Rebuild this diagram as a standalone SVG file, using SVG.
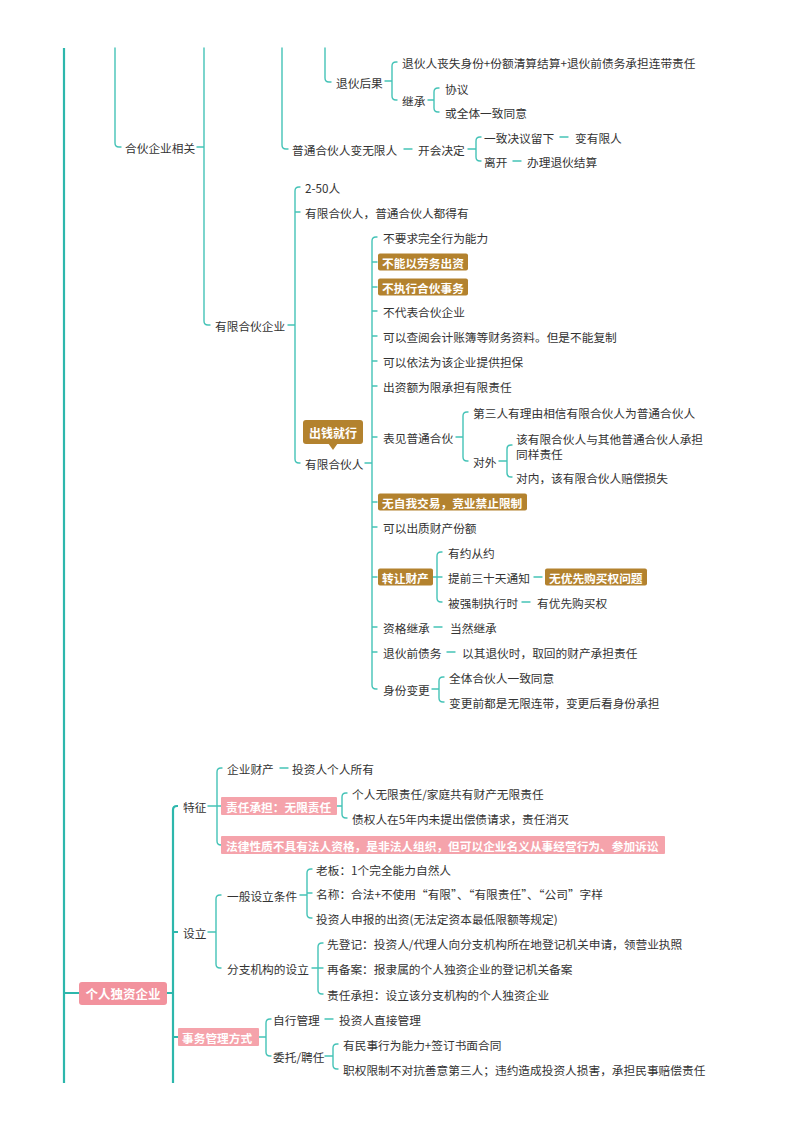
<svg xmlns="http://www.w3.org/2000/svg" width="800" height="1132" viewBox="0 0 800 1132">
<style>
text{font-family:"Noto Sans CJK SC","Noto Sans",sans-serif;font-size:11.7px;fill:#333;dominant-baseline:central}
.w{fill:#fff;font-weight:bold}
.ln{fill:none;stroke:#45c3b7;stroke-width:1.4;stroke-linecap:round}
.main{fill:none;stroke:#2db7ac;stroke-width:2.2}
.br{fill:#b3822e}
.pk{fill:#f5a3ab}
.pk2{fill:#f2929d}
</style>
<rect width="800" height="1132" fill="#fff"/>
<g id="connectors">
<path class="main" d="M64 48 V1083 M64 993 H79"/>
<path class="ln" d="M115 48 V143 Q115 147 119 147 H121"/>
<path class="ln" d="M204 48 V321 Q204 325 208 325 H210 M197 147 H204"/>
<path class="ln" d="M282 48 V145 Q282 149 286 149 H288"/>
<path class="ln" d="M325 48 V78 Q325 82 329 82 H331"/>
<path class="ln" d="M385 81 H392 M397 62 H396 Q392 62 392 66 V96 Q392 100 396 100 H397"/>
<path class="ln" d="M428 100 H434 M439 88 H438 Q434 88 434 92 V108 Q434 112 438 112 H439"/>
<path class="ln" d="M404 149 H412 M468 149 H476 M481 137 H480 Q476 137 476 141 V157 Q476 161 480 161 H481"/>
<path class="ln" d="M560 137 H568 M513 161 H521"/>
<path class="ln" d="M288 325 H295 M300 187 H299 Q295 187 295 191 V459 Q295 463 299 463 H300 M295 212 H300"/>
<path class="ln" d="M365 463 H372 M377 237 H376 Q372 237 372 241 V685 Q372 689 376 689 H377 M372 262 H377 M372 287 H377 M372 311 H377 M372 336 H377 M372 361 H377 M372 386 H377 M372 437 H377 M372 502 H377 M372 527 H377 M372 577 H377 M372 627 H377 M372 652 H377"/>
<path class="ln" d="M456 437 H463 M468 412 H467 Q463 412 463 416 V457 Q463 461 467 461 H468"/>
<path class="ln" d="M499 461 H507 M512 445 H511 Q507 445 507 449 V473 Q507 477 511 477 H512"/>
<path class="ln" d="M432 577 H437 M442 552 H441 Q437 552 437 556 V598 Q437 602 441 602 H442 M437 577 H442"/>
<path class="ln" d="M534 577 H542 M522 602 H530 M434 627 H442 M447 652 H455"/>
<path class="ln" d="M432 689 H439 M444 677 H443 Q439 677 439 681 V698 Q439 702 443 702 H444"/>
<path class="main" d="M167 993 H173 M178 806 H177 Q173 806 173 810 V1083 M173 932 H178 M173 1037 H178"/>
<path class="ln" d="M208 806 H217 M222 768 H221 Q217 768 217 772 V841 Q217 845 221 845 H222 M217 806 H221"/>
<path class="ln" d="M280 768 H288"/>
<path class="ln" d="M336 806 H342 M347 793 H346 Q342 793 342 797 V814 Q342 818 346 818 H347"/>
<path class="ln" d="M208 932 H216 M221 895 H220 Q216 895 216 899 V964 Q216 968 220 968 H221"/>
<path class="ln" d="M300 895 H307 M312 869 H311 Q307 869 307 873 V914 Q307 918 311 918 H312 M307 893 H312"/>
<path class="ln" d="M312 968 H318 M323 943 H322 Q318 943 318 947 V990 Q318 994 322 994 H323 M318 968 H323"/>
<path class="ln" d="M258 1037 H266 M271 1019 H270 Q266 1019 266 1023 V1052 Q266 1056 270 1056 H271"/>
<path class="ln" d="M325 1019 H333"/>
<path class="ln" d="M325 1056 H333 M338 1044 H337 Q333 1044 333 1048 V1065 Q333 1069 337 1069 H338"/>
</g>
<g id="n-hehuo"><text x="125" y="147">合伙企业相关</text></g>
<g id="n-tuihuohouguo"><text x="336" y="82">退伙后果</text></g>
<g id="n-tuihuo1"><text x="402" y="62">退伙人丧失身份+份额清算结算+退伙前债务承担连带责任</text></g>
<g id="n-jicheng"><text x="402" y="100">继承</text></g>
<g id="n-xieyi"><text x="445" y="88">协议</text></g>
<g id="n-quanti"><text x="445" y="112">或全体一致同意</text></g>
<g id="n-putong"><text x="292" y="149">普通合伙人变无限人</text></g>
<g id="n-kaihui"><text x="418" y="149">开会决定</text></g>
<g id="n-yizhi"><text x="484" y="137">一致决议留下</text></g>
<g id="n-bianyouxian"><text x="575" y="137">变有限人</text></g>
<g id="n-likai"><text x="484" y="161">离开</text></g>
<g id="n-banli"><text x="527" y="161">办理退伙结算</text></g>
<g id="n-youxianqiye"><text x="215" y="325">有限合伙企业</text></g>
<g id="n-250"><text x="305" y="187">2-50人</text></g>
<g id="n-doudeyou"><text x="305" y="212">有限合伙人，普通合伙人都得有</text></g>
<g id="n-youxianren"><text x="305" y="463">有限合伙人</text></g>
<g id="n-chuqian"><rect class="br" x="303" y="420" width="60" height="24" rx="3"/><path class="br" d="M328 443 L338 443 L333 450 Z"/><text class="w" x="333" y="432" text-anchor="middle" style="font-size:12px">出钱就行</text></g>
<g id="c1"><text x="383" y="237">不要求完全行为能力</text></g>
<g id="c2"><rect class="br" x="378" y="253.5" width="90" height="17" rx="2"/><text class="w" x="382" y="262">不能以劳务出资</text></g>
<g id="c3"><rect class="br" x="378" y="278.5" width="90" height="17" rx="2"/><text class="w" x="382" y="287">不执行合伙事务</text></g>
<g id="c4"><text x="383" y="311">不代表合伙企业</text></g>
<g id="c5"><text x="383" y="336">可以查阅会计账簿等财务资料。但是不能复制</text></g>
<g id="c6"><text x="383" y="361">可以依法为该企业提供担保</text></g>
<g id="c7"><text x="383" y="386">出资额为限承担有限责任</text></g>
<g id="c8"><text x="383" y="437">表见普通合伙</text></g>
<g id="c8a"><text x="473" y="412">第三人有理由相信有限合伙人为普通合伙人</text></g>
<g id="c8b"><text x="473" y="461">对外</text></g>
<g id="c8b1"><text x="516" y="438">该有限合伙人与其他普通合伙人承担</text><text x="516" y="453">同样责任</text></g>
<g id="c8b2"><text x="516" y="477">对内，该有限合伙人赔偿损失</text></g>
<g id="c9"><rect class="br" x="378" y="493.5" width="149" height="17" rx="2"/><text class="w" x="382" y="502">无自我交易，竞业禁止限制</text></g>
<g id="c10"><text x="383" y="527">可以出质财产份额</text></g>
<g id="c11"><rect class="br" x="378" y="568.5" width="55" height="17" rx="2"/><text class="w" x="382" y="577">转让财产</text></g>
<g id="c11a"><text x="448" y="552">有约从约</text></g>
<g id="c11b"><text x="448" y="577">提前三十天通知</text></g>
<g id="c11b1"><rect class="br" x="545" y="568.5" width="102" height="17" rx="2"/><text class="w" x="549" y="577">无优先购买权问题</text></g>
<g id="c11c"><text x="448" y="602">被强制执行时</text></g>
<g id="c11c1"><text x="537" y="602">有优先购买权</text></g>
<g id="c12"><text x="383" y="627">资格继承</text></g>
<g id="c12a"><text x="450" y="627">当然继承</text></g>
<g id="c13"><text x="383" y="652">退伙前债务</text></g>
<g id="c13a"><text x="462" y="652">以其退伙时，取回的财产承担责任</text></g>
<g id="c14"><text x="383" y="689">身份变更</text></g>
<g id="c14a"><text x="449" y="677">全体合伙人一致同意</text></g>
<g id="c14b"><text x="449" y="702">变更前都是无限连带，变更后看身份承担</text></g>
<g id="n-duzi"><rect class="pk2" x="79" y="982" width="88" height="23" rx="3"/><text class="w" x="123" y="993.5" text-anchor="middle" style="font-size:12.5px">个人独资企业</text></g>
<g id="n-tezheng"><text x="183" y="806">特征</text></g>
<g id="n-qiyecaichan"><text x="227" y="768">企业财产</text></g>
<g id="n-touziren"><text x="292" y="768">投资人个人所有</text></g>
<g id="n-zeren"><rect class="pk" x="221" y="797" width="116" height="18" rx="1"/><text class="w" x="226" y="806">责任承担：无限责任</text></g>
<g id="n-zeren1"><text x="352" y="793">个人无限责任/家庭共有财产无限责任</text></g>
<g id="n-zeren2"><text x="352" y="818">债权人在5年内未提出偿债请求，责任消灭</text></g>
<g id="n-falv"><rect class="pk" x="221" y="836" width="444" height="18" rx="1"/><text class="w" x="226" y="845">法律性质不具有法人资格，是非法人组织，但可以企业名义从事经营行为、参加诉讼</text></g>
<g id="n-sheli"><text x="183" y="932">设立</text></g>
<g id="n-yiban"><text x="227" y="895">一般设立条件</text></g>
<g id="n-laoban"><text x="316" y="869">老板：1个完全能力自然人</text></g>
<g id="n-mingcheng"><text x="316" y="893">名称：合法+不使用“有限”、“有限责任”、“公司”字样</text></g>
<g id="n-chuzi"><text x="316" y="918">投资人申报的出资(无法定资本最低限额等规定)</text></g>
<g id="n-fenzhi"><text x="227" y="968">分支机构的设立</text></g>
<g id="n-xiandengji"><text x="327" y="943">先登记：投资人/代理人向分支机构所在地登记机关申请，领营业执照</text></g>
<g id="n-zaibeian"><text x="327" y="968">再备案：报隶属的个人独资企业的登记机关备案</text></g>
<g id="n-zerenchengdan"><text x="327" y="994">责任承担：设立该分支机构的个人独资企业</text></g>
<g id="n-shiwu"><rect class="pk" x="178" y="1028" width="81" height="18" rx="1"/><text class="w" x="182" y="1037">事务管理方式</text></g>
<g id="n-zixing"><text x="273" y="1019">自行管理</text></g>
<g id="n-zhijie"><text x="339" y="1019">投资人直接管理</text></g>
<g id="n-weituo"><text x="273" y="1056">委托/聘任</text></g>
<g id="n-minshi"><text x="343" y="1044">有民事行为能力+签订书面合同</text></g>
<g id="n-zhiquan"><text x="343" y="1069">职权限制不对抗善意第三人；违约造成投资人损害，承担民事赔偿责任</text></g>
</svg>
